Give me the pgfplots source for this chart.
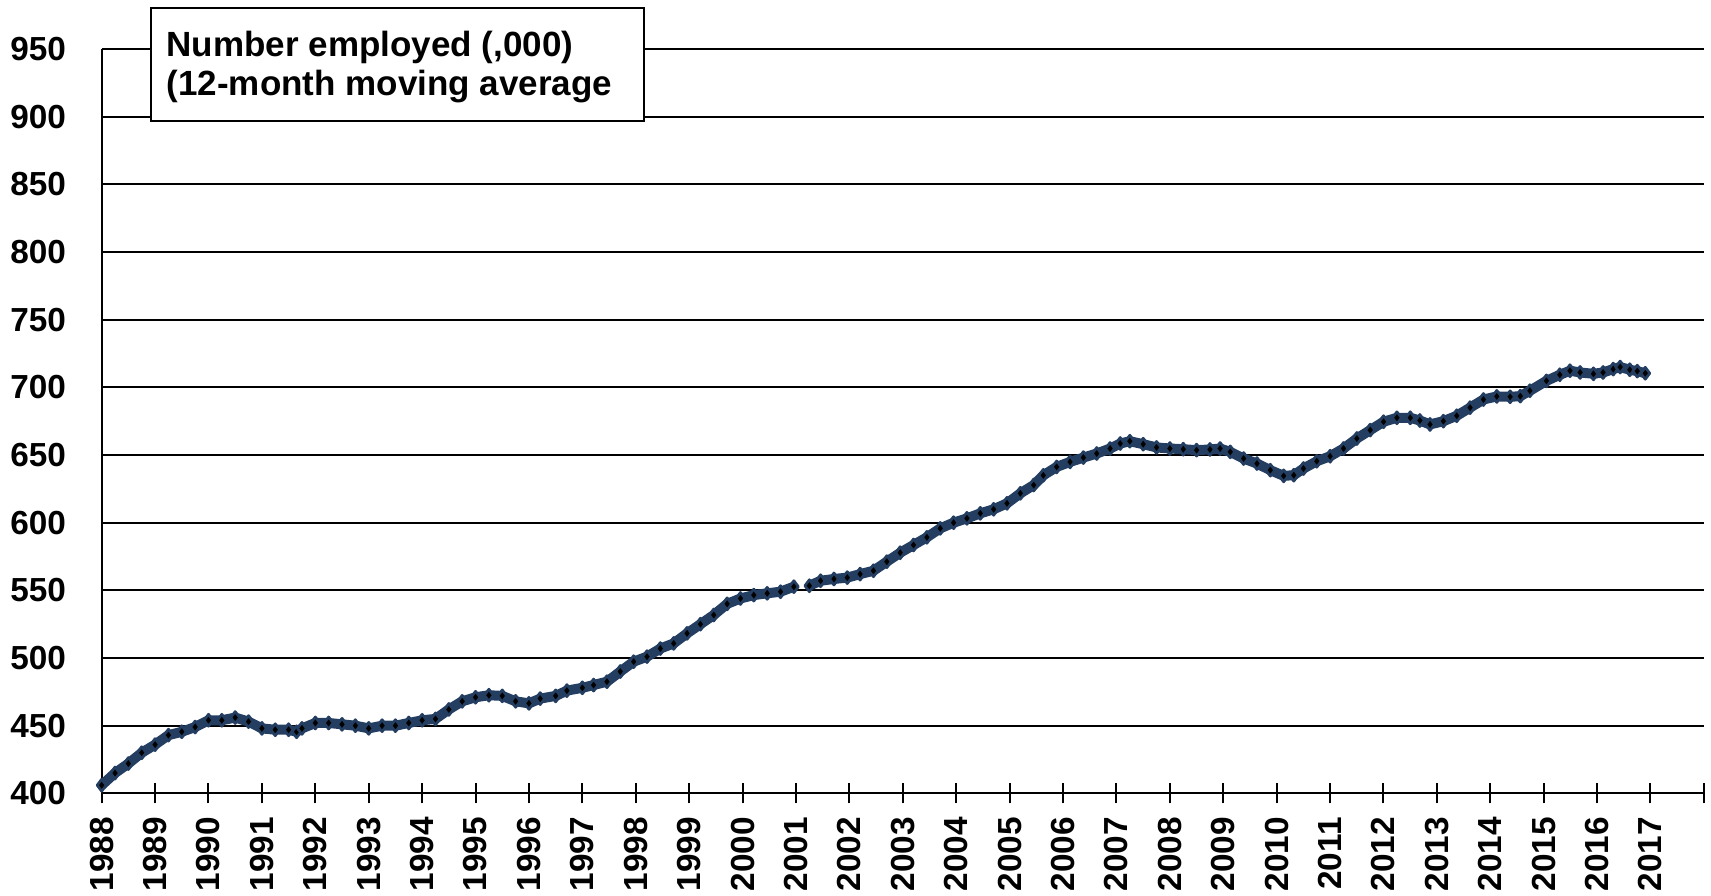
\documentclass[border=0pt]{standalone}
\usepackage{pgfplots}
\pgfplotsset{compat=1.18}
\usepackage{fontspec}
\setmainfont{Liberation Sans}
\definecolor{navy}{RGB}{36,62,98}
\begin{document}
\begin{tikzpicture}
\path[use as bounding box] (0,0) rectangle (513.3pt,268.5pt);
\begin{axis}[
  at={(30.5pt,30.5pt)}, anchor=south west,
  scale only axis, width=480.7pt, height=223.3pt,
  xmin=1988, xmax=2018, ymin=400, ymax=950,
  axis x line=bottom, axis y line=left,
  axis line style={-, line width=0.6pt},
  xtick={1988,1989,...,2018},
  xticklabels={1988,1989,1990,1991,1992,1993,1994,1995,1996,1997,1998,1999,2000,2001,2002,2003,2004,2005,2006,2007,2008,2009,2010,2011,2012,2013,2014,2015,2016,2017,{}},
  ytick={400,450,...,950},
  ymajorgrids, grid style={black, line width=0.6pt},
  major tick length=6pt, tick align=center,
  xtick style={black, line width=0.6pt}, ytick style={draw=none},
  ticklabel style={font=\fontsize{10}{12}\selectfont\bfseries},
  x tick label style={rotate=90, anchor=east, inner sep=0pt},
  xticklabel shift=4pt,
  y tick label style={inner sep=0pt}, yticklabel shift=7.5pt,
  /pgf/number format/assume math mode=true,
  unbounded coords=jump,
]
% 12-month moving average
\addplot[navy, line width=3pt, line join=round, mark=diamond*, mark size=1.8pt,
  mark options={fill=black, draw=navy, line width=0.8pt}] coordinates {
(1988.00,406) (1988.25,415) (1988.50,422) (1988.75,430) (1989.00,436)
(1989.25,443) (1989.50,445.5) (1989.75,449) (1990.00,454) (1990.25,454)
(1990.50,456) (1990.75,453) (1991.00,448) (1991.25,447) (1991.50,447)
(1991.65,445.5) (1991.75,448) (1992.00,452) (1992.25,452) (1992.50,451)
(1992.75,450) (1993.00,448) (1993.25,450) (1993.50,450) (1993.75,452)
(1994.00,454) (1994.25,455) (1994.50,462) (1994.75,468) (1995.00,471)
(1995.25,472.5) (1995.50,472) (1995.75,468) (1996.00,466.5) (1996.21,470)
(1996.50,472) (1996.71,475.9) (1997.00,478) (1997.21,480) (1997.46,482.5)
(1997.71,490) (1997.96,497.3) (1998.21,501) (1998.46,507) (1998.71,510.8)
(1998.96,518.2) (1999.21,525) (1999.46,531.8) (1999.71,540) (1999.96,544)
(2000.21,546.5) (2000.46,547.8) (2000.71,549) (2000.96,552.7) (2001.10,nan)
(2001.25,553.4) (2001.46,557.1) (2001.71,558.4) (2001.96,559.4) (2002.20,562)
(2002.45,564.5) (2002.70,571.2) (2002.95,577.8) (2003.20,583.5) (2003.45,589.2)
(2003.70,595.8) (2003.95,600) (2004.20,603.2) (2004.45,606.9) (2004.70,609.9)
(2004.95,614.3) (2005.20,621.7) (2005.45,627.8) (2005.63,635) (2005.88,641.2)
(2006.13,644.9) (2006.38,648.1) (2006.63,651.1) (2006.88,654.8) (2007.07,658.5)
(2007.25,660.2) (2007.50,658) (2007.75,655.6) (2008.00,654.8) (2008.25,654.3)
(2008.50,653.6) (2008.75,654.1) (2008.94,654.8) (2009.13,652.3) (2009.38,647.4)
(2009.63,643.7) (2009.88,638.8) (2010.13,634.6) (2010.32,635.1) (2010.50,640)
(2010.75,645.4) (2011.00,649.1) (2011.25,654.8) (2011.50,662.2) (2011.75,668.4)
(2012.00,674.6) (2012.25,677.5) (2012.50,677.5) (2012.68,675.5) (2012.87,672.6)
(2013.12,675) (2013.37,679) (2013.62,685) (2013.87,691) (2014.12,693.3)
(2014.37,693) (2014.56,693.5) (2014.74,697.5) (2015.05,704.8) (2015.30,709.3)
(2015.49,712.3) (2015.68,711) (2015.93,710) (2016.11,711) (2016.30,713.5)
(2016.43,715) (2016.61,713) (2016.75,712) (2016.90,710.4)
};
\end{axis}
\draw[line width=0.6pt, fill=white] (45.2pt,232.2pt) rectangle (193.2pt,266.2pt);
\node[anchor=base west, inner sep=0pt, font=\fontsize{10.5}{12}\selectfont\bfseries] at (49.8pt,251.5pt) {Number employed (,000)};
\node[anchor=base west, inner sep=0pt, font=\fontsize{10.5}{12}\selectfont\bfseries] at (49.8pt,239.8pt) {(12-month moving average};
\end{tikzpicture}
\end{document}
